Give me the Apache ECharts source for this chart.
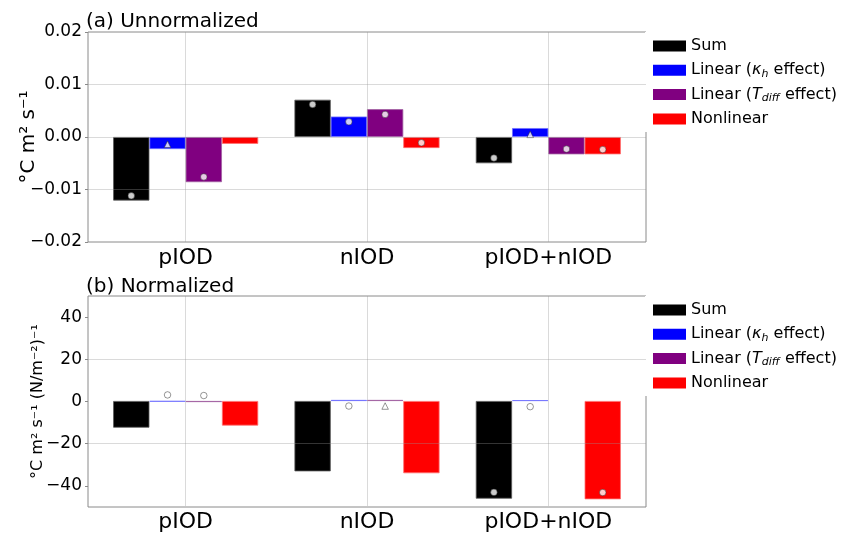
<!DOCTYPE html>
<html><head><meta charset="utf-8">
<script src="https://cdn.jsdelivr.net/npm/echarts@6/dist/echarts.min.js"></script>
<style>html,body{margin:0;padding:0;background:#fff}#c{width:843px;height:533px}</style>
</head><body><div id="c"></div>
<script>
// ---- data ----
const categories = ['pIOD', 'nIOD', 'pIOD+nIOD'];
const seriesNames = ['Sum', 'Linear (κh effect)', 'Linear (Tdiff effect)', 'Nonlinear'];

// (a) Unnormalized — bars
const sumA    = [-0.0121, 0.0071, -0.0050];
const kappaA  = [-0.0023, 0.0039, 0.0017];
const tdiffA  = [-0.0086, 0.0053, -0.0033];
const nonlinA = [-0.0013, -0.0021, -0.0033];
// (a) markers
const sumMarkA    = [-0.0112, 0.0062, -0.0040];
const kappaMarkA  = [-0.0014, 0.0029, 0.0005];
const tdiffMarkA  = [-0.0076, 0.0043, -0.0023];
const nonlinMarkA = [null, -0.0011, -0.0024];
const kappaShapeA = ['triangle', 'circle', 'triangle'];

// (b) Normalized — bars
const sumB    = [-12.7, -33.5, -46.5];
const kappaB  = [-0.3, 0.5, 0.4];
const tdiffB  = [-0.5, 0.5, 0.0];
const nonlinB = [-11.7, -34.4, -46.8];
// (b) markers
const sumMarkB    = [null, null, -43.5];
const kappaMarkB  = [2.9, -2.4, -2.7];
const tdiffMarkB  = [2.6, -2.4, null];
const nonlinMarkB = [null, null, -43.6];
const tdiffShapeB = ['circle', 'triangle', 'circle'];

const yTicksA = [-0.02, -0.01, 0.00, 0.01, 0.02];
const yTicksB = [-40, -20, 0, 20, 40];

// ---- styling ----
const FONT = 'DejaVu Sans';
const colors = ['#000000', '#0000ff', '#800080', '#ff0000'];
const edgeColors = ['#5a5a5a', '#7070ff', '#a060a0', '#ff7070'];
const gridLine = 'rgba(150,150,150,0.35)';
const frame = '#8a8a8a';
const catGap = 0.2;                       // barCategoryGap fraction
const slot = (1 - catGap) / 4;            // each bar's share of a band

function fmtMinus(s) { return s.replace('-', '\u2212'); }

function barSeries(vals, i, xi, yi) {
  return {
    type: 'bar', name: seriesNames[i], xAxisIndex: xi, yAxisIndex: yi,
    data: vals.map(v => (v === 0 ? { value: v, itemStyle: { borderWidth: 0 } } : v)),
    barGap: '0%', barCategoryGap: (catGap * 100) + '%',
    itemStyle: { color: colors[i], borderColor: edgeColors[i], borderWidth: 0.8 },
    emphasis: { disabled: true }, z: 2, animation: false
  };
}
function markSeries(vals, shapes, i, xi, yi, tag) {
  const data = [];
  vals.forEach((v, k) => {
    if (v === null) return;
    data.push({ value: [k + 0.5 + (i - 1.5) * slot, v], symbol: shapes ? shapes[k] : 'circle' });
  });
  return {
    type: 'scatter', name: tag + i, xAxisIndex: xi, yAxisIndex: yi, data: data,
    symbolSize: 6.5,
    itemStyle: { color: '#ffffff', borderColor: 'rgba(50,50,50,0.8)', borderWidth: 0.8 },
    emphasis: { disabled: true }, z: 6, animation: false, silent: true
  };
}

const legendRich = {
  it: { fontStyle: 'italic', fontSize: 16, fontFamily: FONT, lineHeight: 18, color: '#000' },
  sub: { fontStyle: 'italic', fontSize: 11, fontFamily: FONT, lineHeight: 11, verticalAlign: 'bottom', color: '#000' }
};
function legendFmt(name) {
  if (name === 'Linear (κh effect)') return 'Linear ({it|κ}{sub|h} effect)';
  if (name === 'Linear (Tdiff effect)') return 'Linear ({it|T}{sub|diff} effect)';
  return name;
}
function makeLegend(top, padding) {
  return {
    data: seriesNames, orient: 'vertical', left: 645, top: top, padding: padding,
    backgroundColor: '#ffffff', itemWidth: 33, itemHeight: 11, itemGap: 6.3, icon: 'rect',
    selectedMode: false, formatter: legendFmt,
    itemStyle: { borderWidth: 0 },
    textStyle: { fontSize: 16, fontFamily: FONT, color: '#000', lineHeight: 18, rich: legendRich }
  };
}

const gridA = { left: 88, top: 32, width: 558, height: 210 };
const gridB = { left: 88, top: 296, width: 558, height: 211 };
const innerA = { left: 95, top: 32, width: 544, height: 210 };
const innerB = { left: 95, top: 296, width: 544, height: 211 };

function frameGrid(g) { return Object.assign({ show: true, borderColor: frame, borderWidth: 1, backgroundColor: 'transparent' }, g); }

function catAxis(gi, margin) {
  return {
    type: 'category', gridIndex: gi, data: categories, position: 'bottom',
    axisLine: { show: false }, axisTick: { show: false }, splitLine: { show: false },
    axisLabel: { fontSize: 22, fontFamily: FONT, color: '#000', margin: margin }
  };
}
function vGridAxis(gi) {
  return {
    type: 'value', gridIndex: gi, min: 0, max: 3, interval: 0.5, position: 'top', z: 5,
    axisLine: { show: false }, axisTick: { show: false }, axisLabel: { show: false },
    splitLine: { show: true, lineStyle: { color: ['transparent', gridLine], width: 1 } }
  };
}

const option = {
  backgroundColor: '#ffffff',
  animation: false,
  title: [
    { text: '(a) Unnormalized', left: 86, top: 10, padding: 0,
      textStyle: { fontSize: 20, fontWeight: 'normal', fontFamily: FONT, color: '#000', lineHeight: 24 } },
    { text: '(b) Normalized', left: 86, top: 275, padding: 0,
      textStyle: { fontSize: 20, fontWeight: 'normal', fontFamily: FONT, color: '#000', lineHeight: 24 } }
  ],
  legend: [ makeLegend(32, [5, 8, 4, 8]), makeLegend(296, [5, 8, 4, 8]) ],
  grid: [ frameGrid(gridA), innerA, frameGrid(gridB), innerB ],
  xAxis: [
    { type: 'value', gridIndex: 0, min: 0, max: 1, show: false },
    catAxis(1, 5),
    vGridAxis(1),
    { type: 'value', gridIndex: 2, min: 0, max: 1, show: false },
    catAxis(3, 5),
    vGridAxis(3)
  ],
  yAxis: [
    { type: 'value', gridIndex: 0, min: yTicksA[0], max: yTicksA[yTicksA.length - 1], interval: 0.01, z: 5,
      name: '°C m² s⁻¹', nameLocation: 'middle', nameGap: 49, nameRotate: 90, nameMoveOverlap: false,
      nameTextStyle: { fontSize: 20, fontFamily: FONT, color: '#000' },
      axisLine: { show: false },
      axisTick: { show: true, length: 3, lineStyle: { color: frame } },
      axisLabel: { fontSize: 17, fontFamily: FONT, color: '#000', margin: 6,
        formatter: v => fmtMinus(v.toFixed(2)) },
      splitLine: { show: true, lineStyle: { color: ['transparent', gridLine, gridLine, gridLine, 'transparent'], width: 1 } } },
    { type: 'value', gridIndex: 1, min: yTicksA[0], max: yTicksA[yTicksA.length - 1], show: false },
    { type: 'value', gridIndex: 2, min: -50, max: 50, interval: 10, z: 5,
      name: '°C m² s⁻¹ (N/m⁻²)⁻¹', nameLocation: 'middle', nameGap: 42, nameRotate: 90, nameMoveOverlap: false,
      nameTextStyle: { fontSize: 16, fontFamily: FONT, color: '#000' },
      axisLine: { show: false },
      axisTick: { show: true, length: 3, customValues: yTicksB, lineStyle: { color: frame } },
      axisLabel: { fontSize: 17, fontFamily: FONT, color: '#000', margin: 6, customValues: yTicksB,
        formatter: v => (yTicksB.indexOf(v) >= 0 ? fmtMinus(String(v)) : '') },
      splitLine: { show: true, lineStyle: { color: ['transparent', gridLine], width: 1 } } },
    { type: 'value', gridIndex: 3, min: -50, max: 50, show: false }
  ],
  series: [
    barSeries(sumA, 0, 1, 1), barSeries(kappaA, 1, 1, 1), barSeries(tdiffA, 2, 1, 1), barSeries(nonlinA, 3, 1, 1),
    barSeries(sumB, 0, 4, 3), barSeries(kappaB, 1, 4, 3), barSeries(tdiffB, 2, 4, 3), barSeries(nonlinB, 3, 4, 3),
    markSeries(sumMarkA, null, 0, 2, 1, 'ma'), markSeries(kappaMarkA, kappaShapeA, 1, 2, 1, 'ma'),
    markSeries(tdiffMarkA, null, 2, 2, 1, 'ma'), markSeries(nonlinMarkA, null, 3, 2, 1, 'ma'),
    markSeries(sumMarkB, null, 0, 5, 3, 'mb'), markSeries(kappaMarkB, null, 1, 5, 3, 'mb'),
    markSeries(tdiffMarkB, tdiffShapeB, 2, 5, 3, 'mb'), markSeries(nonlinMarkB, null, 3, 5, 3, 'mb')
  ]
};
const chart = echarts.init(document.getElementById('c'), null, { renderer: 'canvas' });
chart.setOption(option);
</script></body></html>
